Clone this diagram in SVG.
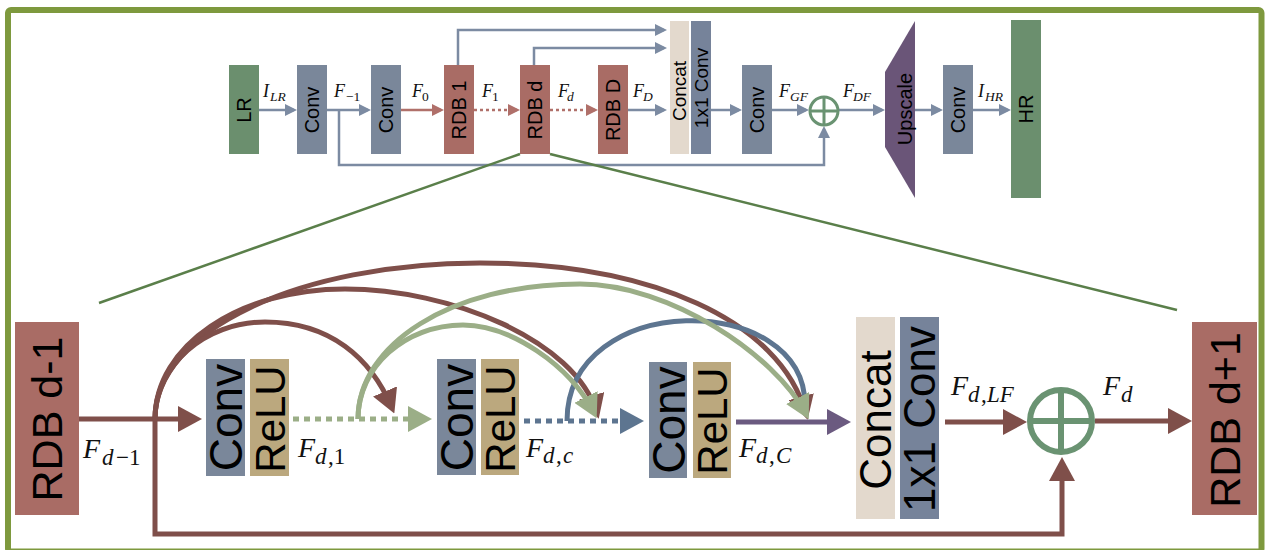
<svg xmlns="http://www.w3.org/2000/svg" width="1265" height="550" viewBox="0 0 1265 550">
<defs>
<style>
.lbl{font-family:"Liberation Sans",Arial,sans-serif;fill:#000;text-anchor:middle}
.t20{font-size:20px}
.t19{font-size:19px}
.b44{font-size:44px}
.b46{font-size:46px}
.b42{font-size:42px}
.m{font-family:"Liberation Serif","Times New Roman",serif;fill:#111}
.i{font-style:italic}
.mt{font-size:18px}
.st{font-size:13.5px}
.mb{font-size:28px}
.sb{font-size:23px}
.rdb{fill:#A96C65}
.conv{fill:#7A879A}
.relu{fill:#BBA87E}
.cat{fill:#E3D9CD}
.c11{fill:#76839A}
.io{fill:#6B8F6E}
.tl{fill:none;stroke:#7C8BA2;stroke-width:2.5}
.tr{fill:none;stroke:#B0706A;stroke-width:2.5}
.br{fill:none;stroke:#7F4F4A;stroke-width:5}
.gr{fill:none;stroke:#9BAE87;stroke-width:5}
.bl{fill:none;stroke:#5D7590;stroke-width:5}
.pu{fill:none;stroke:#6B5A80;stroke-width:5}
.zoomln{fill:none;stroke:#5A7F4A;stroke-width:2.5}
.plus{fill:none;stroke:#6A9372}
</style>
<marker id="tS" markerUnits="userSpaceOnUse" markerWidth="12" markerHeight="12" viewBox="0 0 12 12" refX="9" refY="6" orient="auto"><path d="M0,0L12,6L0,12z" fill="#7C8BA2"/></marker>
<marker id="tR" markerUnits="userSpaceOnUse" markerWidth="12" markerHeight="12" viewBox="0 0 12 12" refX="9" refY="6" orient="auto"><path d="M0,0L12,6L0,12z" fill="#B0706A"/></marker>
<marker id="hBr" markerUnits="userSpaceOnUse" markerWidth="24" markerHeight="26" viewBox="0 0 24 26" refX="18" refY="13" orient="auto"><path d="M0,0L24,13L0,26z" fill="#7F4F4A"/></marker>
<marker id="hGr" markerUnits="userSpaceOnUse" markerWidth="24" markerHeight="26" viewBox="0 0 24 26" refX="18" refY="13" orient="auto"><path d="M0,0L24,13L0,26z" fill="#9BAE87"/></marker>
<marker id="hBl" markerUnits="userSpaceOnUse" markerWidth="24" markerHeight="26" viewBox="0 0 24 26" refX="18" refY="13" orient="auto"><path d="M0,0L24,13L0,26z" fill="#5D7590"/></marker>
<marker id="hPu" markerUnits="userSpaceOnUse" markerWidth="24" markerHeight="26" viewBox="0 0 24 26" refX="18" refY="13" orient="auto"><path d="M0,0L24,13L0,26z" fill="#6B5A80"/></marker>
</defs>
<rect x="0" y="0" width="1265" height="550" fill="#fff"/>
<rect id="frame" x="8" y="10" width="1253.5" height="541.5" rx="3" fill="none" stroke="#7E993E" stroke-width="6"/>

<g id="connectors">
<!-- top -->
<path class="tl" d="M259,110H294" marker-end="url(#tS)"/>
<path class="tl" d="M327,110H368" marker-end="url(#tS)"/>
<path class="tl" d="M339,110V165H824V129" marker-end="url(#tS)"/>
<path class="tr" d="M401,110H441" marker-end="url(#tR)"/>
<path class="tr" d="M474,110H517" stroke-dasharray="3,3" marker-end="url(#tR)"/>
<path class="tr" d="M550,110H595" stroke-dasharray="3,3" marker-end="url(#tR)"/>
<path class="tl" d="M628,110H664" marker-end="url(#tS)"/>
<path class="tl" d="M458,65V30H664" marker-end="url(#tS)"/>
<path class="tl" d="M534,65V48H664" marker-end="url(#tS)"/>
<path class="tl" d="M711,110H739" marker-end="url(#tS)"/>
<path class="tl" d="M772,110H806" marker-end="url(#tS)"/>
<path class="tl" d="M839,110H882" marker-end="url(#tS)"/>
<path class="tl" d="M915,110H940" marker-end="url(#tS)"/>
<path class="tl" d="M973,110H1008" marker-end="url(#tS)"/>
<!-- zoom lines -->
<path class="zoomln" d="M520,154L99,303"/>
<path class="zoomln" d="M550,154L1177,310"/>
<!-- bottom -->
<path class="br" d="M79,419H196" marker-end="url(#hBr)"/>
<path class="br" d="M155,419V534H1062V463" marker-end="url(#hBr)"/>
<path class="br" d="M155,419C155,330 300,263 480,263C650,263 780,320 806,414" marker-end="url(#hBr)"/>
<path class="br" d="M155,419C155,345 240,289 345,289C450,289 575,340 597,413" marker-end="url(#hBr)"/>
<path class="br" d="M155,419C155,365 205,322 265,322C330,322 371,358 392,408" marker-end="url(#hBr)"/>
<path class="gr" d="M293,419H426" stroke-dasharray="6,5" marker-end="url(#hGr)"/>
<path class="bl" d="M524,421H638" stroke-dasharray="6,5" marker-end="url(#hBl)"/>
<path class="bl" d="M567,421C567,290 805,290 805,405"/>
<path class="gr" d="M358,419C358,345 450,284 580,284C670,284 775,355 806,414" marker-end="url(#hGr)"/>
<path class="gr" d="M358,419C358,367 405,325 463,325C510,325 570,365 594,413" marker-end="url(#hGr)"/>
<path class="pu" d="M736,422H845" marker-end="url(#hPu)"/>
<path class="br" d="M945,422H1021" marker-end="url(#hBr)"/>
<path class="br" d="M1095,421H1186" marker-end="url(#hBr)"/>
</g>

<!-- top nodes -->
<g id="lr"><rect class="io" x="229" y="65" width="30" height="89"/><text class="lbl t20" transform="translate(244,110) rotate(-90)" y="7">LR</text></g>
<g id="conv_a"><rect class="conv" x="297" y="65" width="30" height="89"/><text class="lbl t20" transform="translate(312,110) rotate(-90)" y="7">Conv</text></g>
<g id="conv_b"><rect class="conv" x="371" y="65" width="30" height="89"/><text class="lbl t20" transform="translate(386,110) rotate(-90)" y="7">Conv</text></g>
<g id="rdb1"><rect class="rdb" x="444" y="65" width="30" height="89"/><text class="lbl t20" transform="translate(459,110) rotate(-90)" y="7">RDB 1</text></g>
<g id="rdbd"><rect class="rdb" x="520" y="65" width="30" height="89"/><text class="lbl t20" transform="translate(535,110) rotate(-90)" y="7">RDB d</text></g>
<g id="rdbD"><rect class="rdb" x="598" y="65" width="30" height="89"/><text class="lbl t20" transform="translate(613,110) rotate(-90)" y="7">RDB D</text></g>
<g id="concat_top"><rect class="cat" x="670" y="21" width="19" height="133"/><text class="lbl t19" transform="translate(679.5,91) rotate(-90)" y="6.8">Concat</text></g>
<g id="conv11_top"><rect class="c11" x="691" y="21" width="20" height="133"/><text class="lbl t19" transform="translate(701,88) rotate(-90)" y="6.8">1x1 Conv</text></g>
<g id="conv_c"><rect class="conv" x="742" y="65" width="30" height="89"/><text class="lbl t20" transform="translate(757,110) rotate(-90)" y="7">Conv</text></g>
<g id="sum_top"><circle class="plus" cx="824" cy="111" r="14" stroke-width="3"/><path class="plus" stroke-width="3" d="M810,111H838M824,97V125"/></g>
<g id="upscale"><path d="M885,72L915,21L915,198L885,147z" fill="#6A5578"/><text class="lbl t20" transform="translate(905,109) rotate(-90)" y="7">Upscale</text></g>
<g id="conv_d"><rect class="conv" x="943" y="65" width="30" height="89"/><text class="lbl t20" transform="translate(958,110) rotate(-90)" y="7">Conv</text></g>
<g id="hr"><rect class="io" x="1011" y="20" width="30" height="178"/><text class="lbl t20" transform="translate(1026,109) rotate(-90)" y="7">HR</text></g>

<!-- top labels -->
<g id="top_labels">
<text class="m i mt" x="263" y="97">I<tspan class="st" x="270" y="101">LR</tspan></text>
<text class="m i mt" x="334" y="97">F<tspan class="st" x="346" y="101" font-style="normal">−1</tspan></text>
<text class="m i mt" x="412" y="97">F<tspan class="st" x="422" y="101" font-style="normal">0</tspan></text>
<text class="m i mt" x="482" y="97">F<tspan class="st" x="492" y="101" font-style="normal">1</tspan></text>
<text class="m i mt" x="558" y="97">F<tspan class="st" x="567" y="101">d</tspan></text>
<text class="m i mt" x="633" y="97">F<tspan class="st" x="643" y="101">D</tspan></text>
<text class="m i mt" x="779" y="97">F<tspan class="st" x="790" y="101">GF</tspan></text>
<text class="m i mt" x="843" y="97">F<tspan class="st" x="853" y="101">DF</tspan></text>
<text class="m i mt" x="978" y="97">I<tspan class="st" x="985" y="101">HR</tspan></text>
</g>

<!-- bottom nodes -->
<g id="rdb_prev"><rect class="rdb" x="15" y="322" width="64" height="193"/><text class="lbl" font-size="43" transform="translate(47,419) rotate(-90)" y="15.4">RDB d-1</text></g>
<g id="conv1"><rect class="conv" x="206" y="359" width="39" height="117"/><text class="lbl b46" transform="translate(225.5,417.5) rotate(-90)" y="16.5">Conv</text></g>
<g id="relu1"><rect class="relu" x="250" y="359" width="39" height="117"/><text class="lbl b42" transform="translate(269.5,419) rotate(-90)" y="15">ReLU</text></g>
<g id="conv2"><rect class="conv" x="437" y="359" width="39" height="116"/><text class="lbl b46" transform="translate(456.5,417.5) rotate(-90)" y="16.5">Conv</text></g>
<g id="relu2"><rect class="relu" x="481" y="359" width="38" height="116"/><text class="lbl b42" transform="translate(500,419) rotate(-90)" y="15">ReLU</text></g>
<g id="conv3"><rect class="conv" x="649" y="362" width="38" height="116"/><text class="lbl b46" transform="translate(668,420) rotate(-90)" y="16.5">Conv</text></g>
<g id="relu3"><rect class="relu" x="693" y="362" width="38" height="116"/><text class="lbl b42" transform="translate(712,421) rotate(-90)" y="15">ReLU</text></g>
<g id="concat"><rect class="cat" x="856" y="317" width="39" height="202"/><text class="lbl b44" transform="translate(875.5,420) rotate(-90)" y="15.8">Concat</text></g>
<g id="conv11"><rect class="c11" x="900" y="317" width="39" height="202"/><text class="lbl b44" transform="translate(919.5,419) rotate(-90)" y="15.8">1x1 Conv</text></g>
<g id="sum"><circle class="plus" cx="1061" cy="421" r="31" stroke-width="6"/><path class="plus" stroke-width="6" d="M1030,421H1092M1061,390V452"/></g>
<g id="rdb_next"><rect class="rdb" x="1192" y="322" width="65" height="193"/><text class="lbl" font-size="43" transform="translate(1224.5,420) rotate(-90)" y="15.4">RDB d+1</text></g>

<!-- bottom labels -->
<g id="bottom_labels">
<text class="m i mb" x="83" y="458">F<tspan class="sb" x="102" y="465">d</tspan><tspan class="sb" x="116" font-style="normal">−1</tspan></text>
<text class="m i mb" x="298" y="457">F<tspan class="sb" x="315" y="464">d</tspan><tspan class="sb" x="328" font-style="normal">,1</tspan></text>
<text class="m i mb" x="526" y="457">F<tspan class="sb" x="543" y="463">d</tspan><tspan class="sb" x="556" font-style="normal">,</tspan><tspan class="sb" x="563">c</tspan></text>
<text class="m i mb" x="739" y="457">F<tspan class="sb" x="756" y="463">d</tspan><tspan class="sb" x="769" font-style="normal">,</tspan><tspan class="sb" x="776">C</tspan></text>
<text class="m i mb" x="951" y="395">F<tspan class="sb" x="968" y="402">d</tspan><tspan class="sb" x="981" font-style="normal">,</tspan><tspan class="sb" x="987">LF</tspan></text>
<text class="m i mb" x="1103" y="395">F<tspan class="sb" x="1121" y="402">d</tspan></text>
</g>
</svg>
